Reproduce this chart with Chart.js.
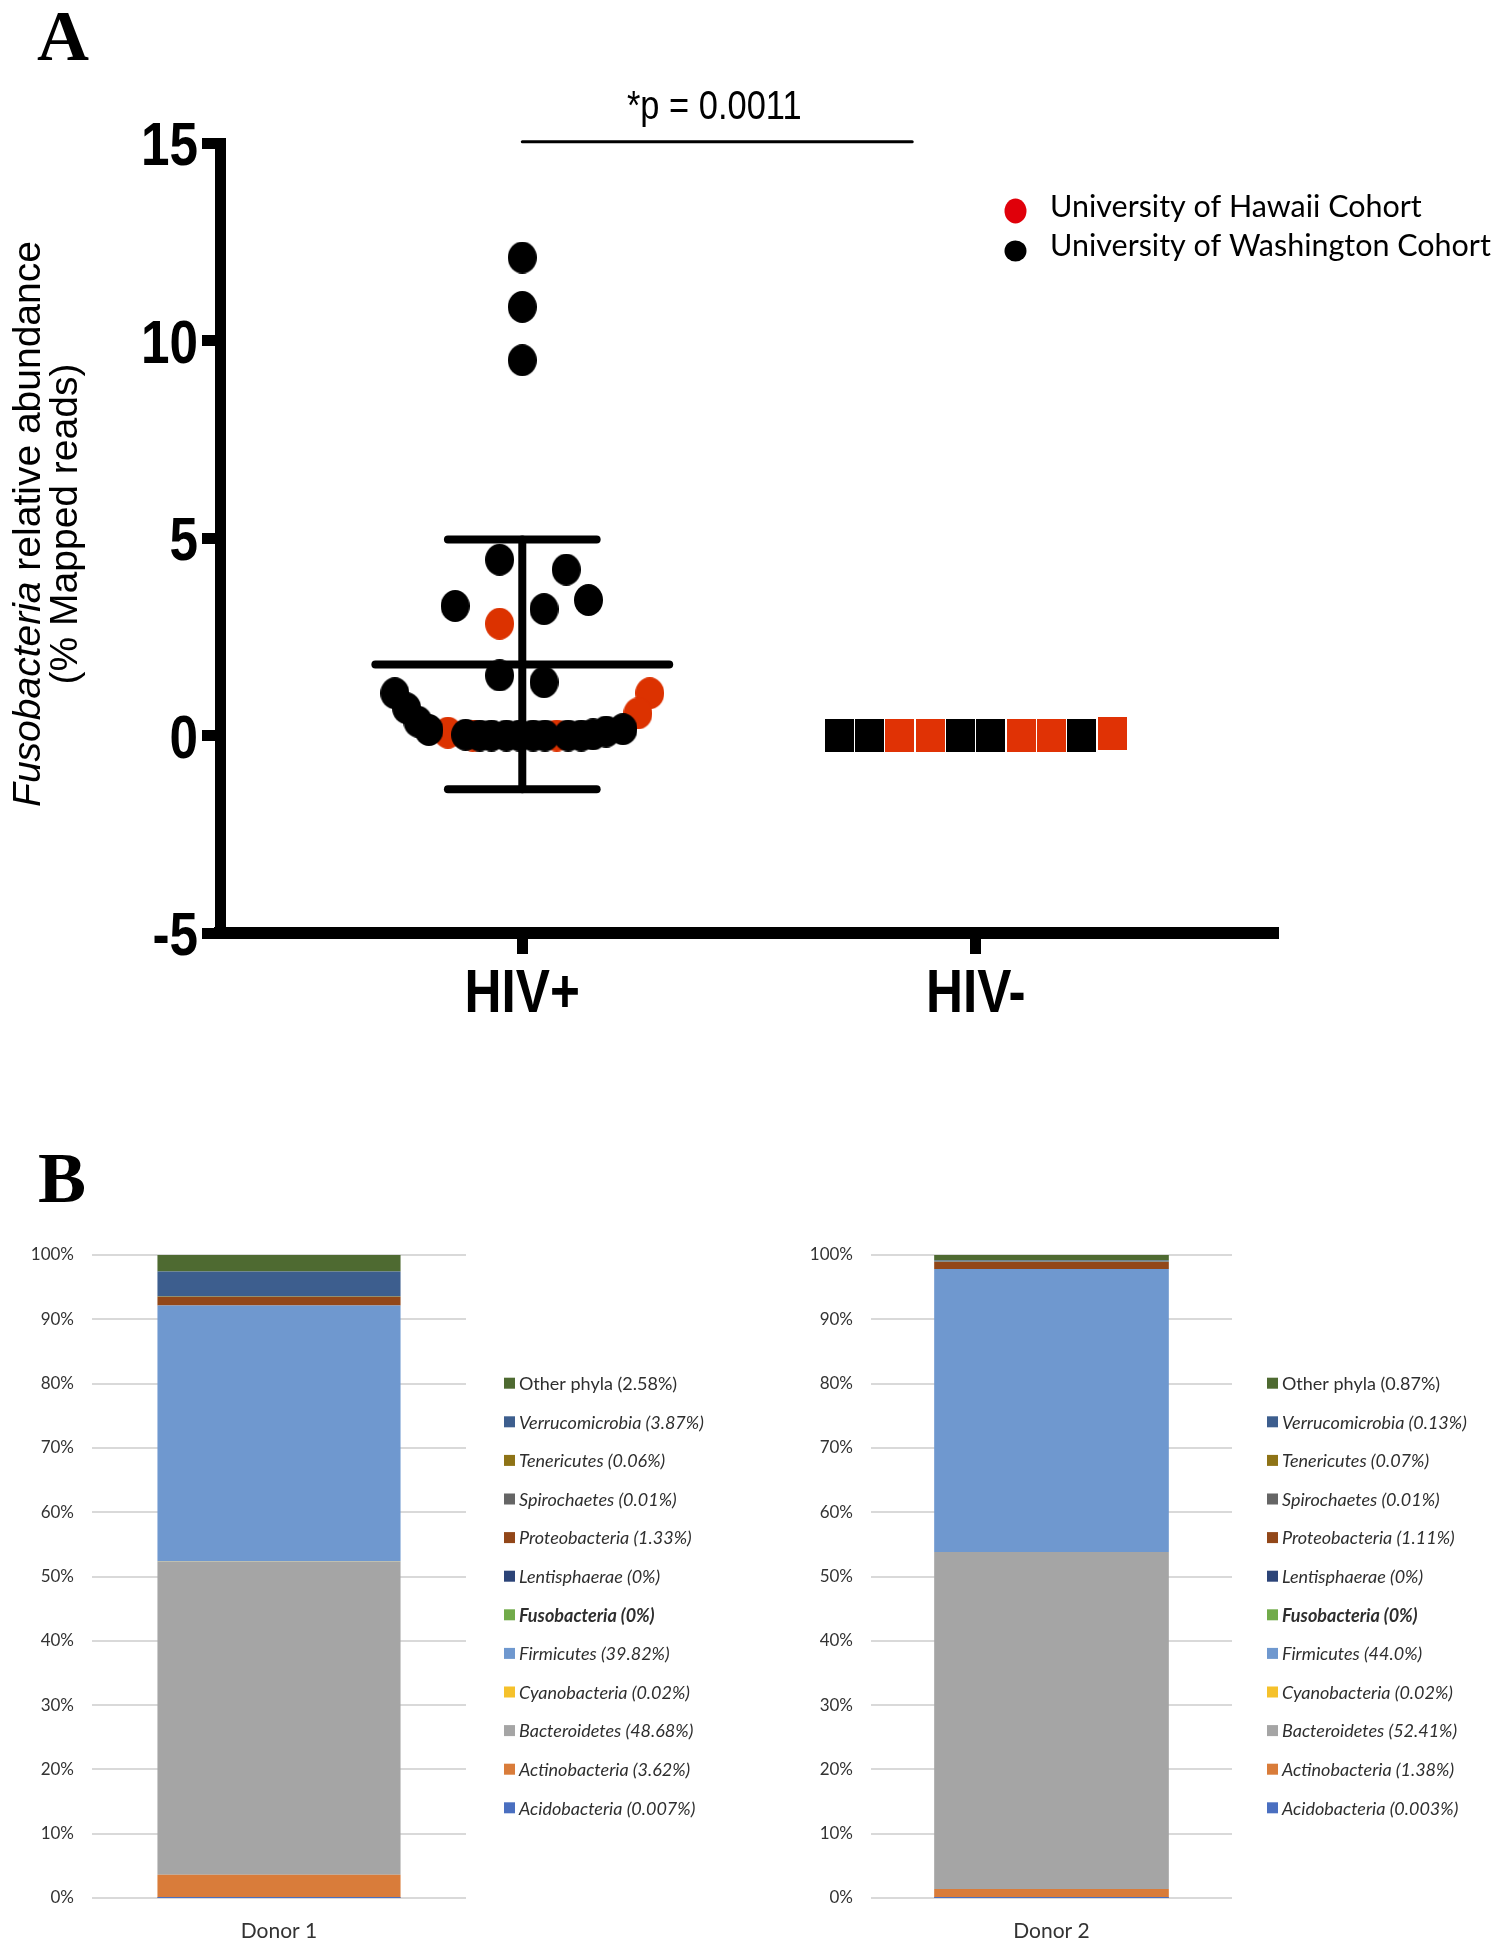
<!DOCTYPE html>
<html>
<head>
<meta charset="utf-8">
<script src="https://cdn.jsdelivr.net/npm/chart.js@4.4.1/dist/chart.umd.min.js"></script>
<style>
  html, body { margin: 0; padding: 0; background: #fff; }
  #wrap { position: relative; width: 1501px; height: 1950px; overflow: hidden; }
  canvas { position: absolute; }
</style>
</head>
<body>
<div id="wrap">
  <canvas id="chartA" width="1501" height="1080" style="left:0;top:0"></canvas>
  <canvas id="donor1" width="750" height="810" style="left:0;top:1140px"></canvas>
  <canvas id="donor2" width="751" height="810" style="left:750px;top:1140px"></canvas>
</div>
<script>
// ---- panel A data ----
var groups = ['HIV+', 'HIV-'];
// HIV+ dots: x = group 0 + horizontal spread, y = % mapped reads
var hivPosWashX = [0, 0, 0, -0.050, 0.097, 0.146, -0.148, 0.048, -0.050, 0.048, -0.281, -0.255, -0.230, -0.206,
                   -0.125, -0.094, -0.068, -0.035, -0.006, 0.024, 0.050, 0.101, 0.130, 0.156, 0.185, 0.222];
var hivPosWashY = [12.1, 10.85, 9.5, 4.45, 4.20, 3.43, 3.28, 3.20, 1.52, 1.35, 1.07, 0.69, 0.35, 0.14,
                   0.02, 0, 0, 0, 0, 0, 0, 0, 0, 0.03, 0.10, 0.16];
var hivPosHawX = [-0.050, 0.281, 0.255, -0.164, -0.109, 0.076];
var hivPosHawY = [2.83, 1.07, 0.56, 0.07, 0, 0];
// HIV- squares: x = group 1 + spread
var hivNegX = [-0.301, -0.234, -0.167, -0.100, -0.033, 0.033, 0.100, 0.167, 0.234, 0.301];
var hivNegY = [0, 0, 0, 0, 0, 0, 0, 0, 0, 0.04];
var hivNegCohort = ['W', 'W', 'H', 'H', 'W', 'W', 'H', 'H', 'W', 'H'];
var hivPosMean = 1.80;
var hivPosSd = 3.16;
var sigBarX = [0, 0.86];
var sigBarY = 15.03;
var pValueText = '*p = 0.0011';
var cohorts = ['University of Hawaii Cohort', 'University of Washington Cohort'];

// ---- panel B data ----
var phyla = ['Acidobacteria', 'Actinobacteria', 'Bacteroidetes', 'Cyanobacteria', 'Firmicutes', 'Fusobacteria',
             'Lentisphaerae', 'Proteobacteria', 'Spirochaetes', 'Tenericutes', 'Verrucomicrobia', 'Other phyla'];
var donor1 = [0.007, 3.62, 48.68, 0.02, 39.82, 0, 0, 1.33, 0.01, 0.06, 3.87, 2.58];
var donor2 = [0.003, 1.38, 52.41, 0.02, 44.0, 0, 0, 1.11, 0.01, 0.07, 0.13, 0.87];
var donor1Pct = ['0.007%', '3.62%', '48.68%', '0.02%', '39.82%', '0%', '0%', '1.33%', '0.01%', '0.06%', '3.87%', '2.58%'];
var donor2Pct = ['0.003%', '1.38%', '52.41%', '0.02%', '44.0%', '0%', '0%', '1.11%', '0.01%', '0.07%', '0.13%', '0.87%'];

var phylaColors = ['#4a6fc0', '#d97c3a', '#a5a5a5', '#f5c12b', '#6f98cf', '#71ab4a',
                   '#2c4478', '#924719', '#656565', '#8e7316', '#3d5e8e', '#4e6a31'];

var RED = '#dc3200';
var sans = "'Liberation Sans', Arial, sans-serif";
var SQUEEZE = 0.84; // no condensed face installed, so squeeze Liberation Sans sideways

function markerImage(color, w, h, square){
    var c = document.createElement('canvas');
    c.width = w;
    c.height = h;
    var g = c.getContext('2d');
    g.fillStyle = color;
    if(square){
        g.fillRect(0, 0, w, h);
    } else {
        g.beginPath();
        g.ellipse(w / 2, h / 2, w / 2, h / 2, 0, 0, Math.PI * 2);
        g.fill();
    }
    return c;
}

function points(xs, ys, base){
    var out = [];
    for(var i = 0; i < xs.length; i++){
        out.push({x: base + xs[i], y: ys[i]});
    }
    return out;
}

function negPoints(which){
    var out = [];
    for(var i = 0; i < hivNegX.length; i++){
        if(hivNegCohort[i] === which) out.push({x: 1 + hivNegX[i], y: hivNegY[i]});
    }
    return out;
}

function lineSet(data, width){
    return {
        type: 'line', data: data, showLine: true, borderColor: '#000', borderWidth: width,
        borderCapStyle: 'round', pointRadius: 0, fill: false, clip: false
    };
}

// narrow text: x,y in page pixels, align left/center/right
function narrowText(ctx, text, x, y, font, align){
    ctx.save();
    ctx.font = font;
    ctx.textAlign = align;
    ctx.textBaseline = 'alphabetic';
    ctx.translate(x, y);
    ctx.scale(SQUEEZE, 1);
    ctx.fillText(text, 0, 0);
    ctx.restore();
}

var blackDot = markerImage('#000', 29, 32, false);
var redDot = markerImage(RED, 29, 32, false);
var blackSq = markerImage('#000', 29, 33, true);
var redSq = markerImage('#e03205', 29, 33, true);

var capHalf = 0.164, meanHalf = 0.324;

var panelA = {
    id: 'panelA',
    afterDraw: function(chart){
        var ctx = chart.ctx, xs = chart.scales.x, ys = chart.scales.y;
        ctx.save();
        ctx.fillStyle = '#000';
        ctx.textAlign = 'left';
        ctx.textBaseline = 'alphabetic';
        ctx.font = "bold 72px 'Liberation Serif', 'Times New Roman', serif";
        ctx.fillText('A', 37, 60);

        // tick labels from the scales
        var tickFont = 'bold 61px ' + sans;
        ys.ticks.forEach(function(t){
            narrowText(ctx, String(t.value), 198, ys.getPixelForValue(t.value) + 22, tickFont, 'right');
        });
        xs.ticks.forEach(function(t){
            narrowText(ctx, groups[t.value], xs.getPixelForValue(t.value), 1012, tickFont, 'center');
        });

        // p value above the bar
        narrowText(ctx, pValueText, xs.getPixelForValue((sigBarX[0] + sigBarX[1]) / 2) - 3,
                   ys.getPixelForValue(15.6), '41px ' + sans, 'center');

        // y title, "Fusobacteria" in italics
        ctx.save();
        ctx.translate(40, 524);
        ctx.rotate(-Math.PI / 2);
        ctx.textAlign = 'left';
        var it = 'Fusobacteria', rest = ' relative abundance';
        ctx.font = 'italic 39px ' + sans;
        var w1 = ctx.measureText(it).width;
        ctx.font = '39px ' + sans;
        var w2 = ctx.measureText(rest).width;
        var sx = -(w1 + w2) / 2;
        ctx.font = 'italic 39px ' + sans;
        ctx.fillText(it, sx, 0);
        ctx.font = '39px ' + sans;
        ctx.fillText(rest, sx + w1, 0);
        ctx.textAlign = 'center';
        ctx.fillText('(% Mapped reads)', 0, 37);
        ctx.restore();

        // cohort legend
        ctx.font = '100px Lato, sans-serif';
        var size = 100 * 441 / ctx.measureText(cohorts[1]).width;
        ctx.font = size + 'px Lato, sans-serif';
        ctx.textAlign = 'left';
        ctx.fillStyle = '#e0000a';
        ctx.beginPath(); ctx.ellipse(1015.5, 211, 11, 12.5, 0, 0, Math.PI * 2); ctx.fill();
        ctx.fillStyle = '#000';
        ctx.beginPath(); ctx.ellipse(1015.5, 251, 11, 10.5, 0, 0, Math.PI * 2); ctx.fill();
        ctx.fillText(cohorts[0], 1050, 217);
        ctx.fillText(cohorts[1], 1050, 256);
        ctx.restore();
    }
};

new Chart(document.getElementById('chartA'), {
    type: 'scatter',
    data: {
        datasets: [
            lineSet([{x: -meanHalf, y: hivPosMean}, {x: meanHalf, y: hivPosMean}], 8),
            lineSet([{x: 0, y: hivPosMean - hivPosSd}, {x: 0, y: hivPosMean + hivPosSd}], 8),
            lineSet([{x: -capHalf, y: hivPosMean + hivPosSd}, {x: capHalf, y: hivPosMean + hivPosSd}], 8),
            lineSet([{x: -capHalf, y: hivPosMean - hivPosSd}, {x: capHalf, y: hivPosMean - hivPosSd}], 8),
            lineSet([{x: sigBarX[0], y: sigBarY}, {x: sigBarX[1], y: sigBarY}], 3),
            {label: cohorts[1], data: points(hivPosWashX, hivPosWashY, 0), pointStyle: blackDot, pointRadius: 15, clip: false},
            {label: cohorts[0], data: points(hivPosHawX, hivPosHawY, 0), pointStyle: redDot, pointRadius: 15, clip: false},
            {label: cohorts[1], data: negPoints('W'), pointStyle: blackSq, pointRadius: 15, clip: false},
            {label: cohorts[0], data: negPoints('H'), pointStyle: redSq, pointRadius: 15, clip: false}
        ]
    },
    options: {
        responsive: false,
        animation: false,
        events: [],
        layout: {padding: {top: 143, right: 223, left: 0, bottom: 0}},
        plugins: {legend: {display: false}, tooltip: {enabled: false}},
        scales: {
            x: {
                type: 'linear', min: -2 / 3, max: 5 / 3,
                afterBuildTicks: function(s){ s.ticks = groups.map(function(g, i){ return {value: i}; }); },
                afterFit: function(s){ s.height = 147; },
                ticks: {display: false},
                grid: {drawOnChartArea: false, drawTicks: true, tickLength: 21, tickWidth: 11, tickColor: '#000'},
                border: {display: true, color: '#000', width: 12}
            },
            y: {
                min: -5, max: 15,
                afterFit: function(s){ s.width = 220; },
                ticks: {stepSize: 5, display: false},
                grid: {drawOnChartArea: false, drawTicks: true, tickLength: 18, tickWidth: 11, tickColor: '#000'},
                border: {display: true, color: '#000', width: 11}
            }
        }
    },
    plugins: [panelA]
});

// ---- panel B ----
function donorLegend(pct, boxX, textX, letter){
    return {
        id: 'donorLegend',
        afterDraw: function(chart){
            var ctx = chart.ctx;
            ctx.save();
            if(letter){
                ctx.fillStyle = '#000';
                ctx.font = "bold 72px 'Liberation Serif', 'Times New Roman', serif";
                ctx.textBaseline = 'alphabetic';
                ctx.fillText(letter, 38, 62);
            }
            ctx.textBaseline = 'middle';
            for(var i = phyla.length - 1; i >= 0; i--){
                var row = phyla.length - 1 - i;
                var yy = 243.2 + row * 38.6;
                ctx.fillStyle = phylaColors[i];
                ctx.fillRect(boxX, yy - 5.5, 11, 11);
                var style = phyla[i] === 'Other phyla' ? '' : 'italic ';
                if(phyla[i] === 'Fusobacteria') style = 'italic bold ';
                ctx.font = style + '18px Lato, sans-serif';
                ctx.fillStyle = '#2e2e2e';
                ctx.fillText(phyla[i] + ' (' + pct[i] + ')', textX, yy + 1);
            }
            ctx.restore();
        }
    };
}

function donorChart(id, name, values, pct, plotLeft, plotRight, canvasW, boxX, textX, letter){
    var datasets = phyla.map(function(p, i){
        return {
            label: p + ' (' + pct[i] + ')',
            data: [values[i]],
            backgroundColor: phylaColors[i],
            borderWidth: 0,
            barPercentage: 0.65,
            categoryPercentage: 1
        };
    });
    return new Chart(document.getElementById(id), {
        type: 'bar',
        data: {labels: [name], datasets: datasets},
        options: {
            responsive: false,
            animation: false,
            events: [],
            layout: {padding: {top: 115, right: canvasW - plotRight, left: 0, bottom: 0}},
            plugins: {legend: {display: false}, tooltip: {enabled: false}},
            scales: {
                x: {
                    stacked: true,
                    afterFit: function(s){ s.height = 52; },
                    grid: {display: false},
                    border: {display: false},
                    ticks: {font: {family: 'Lato', size: 21}, color: '#333', padding: 13}
                },
                y: {
                    stacked: true, min: 0, max: 100,
                    afterFit: function(s){ s.width = plotLeft; },
                    ticks: {
                        stepSize: 10,
                        callback: function(v){ return v + '%'; },
                        font: {family: 'Lato', size: 17}, color: '#333', padding: 18
                    },
                    grid: {color: '#d9d9d9', lineWidth: 2, drawTicks: false},
                    border: {display: false}
                }
            }
        },
        plugins: [donorLegend(pct, boxX, textX, letter)]
    });
}

donorChart('donor1', 'Donor 1', donor1, donor1Pct, 92, 466, 750, 504, 519, 'B');
donorChart('donor2', 'Donor 2', donor2, donor2Pct, 121, 482, 751, 517, 532, null);
</script>
</body>
</html>
